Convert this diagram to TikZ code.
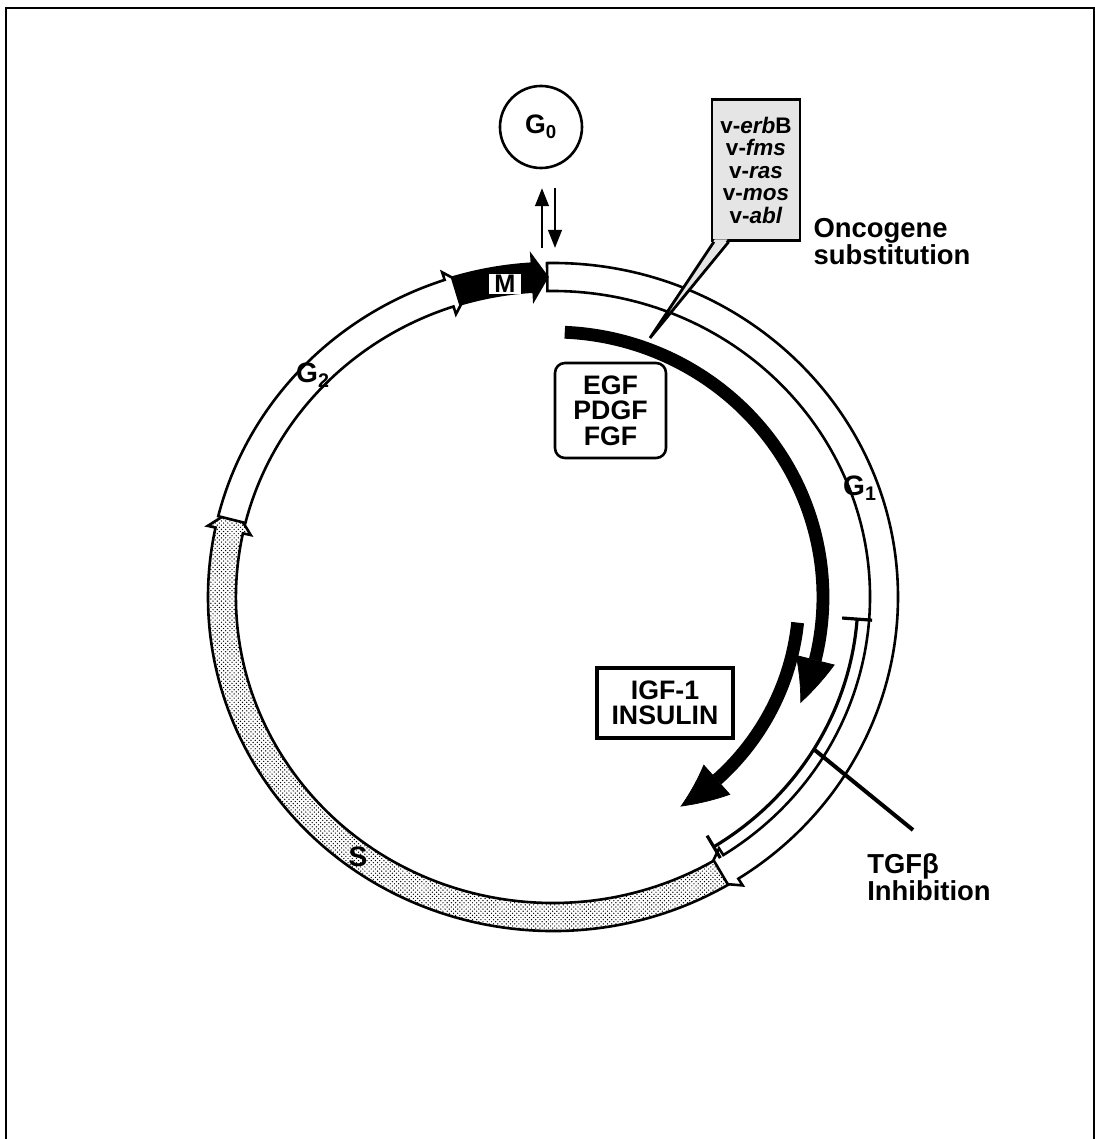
\documentclass[tikz,border=0pt]{standalone}
\usepackage{fontspec}
\setmainfont{Liberation Sans}
\usetikzlibrary{arrows.meta, bending, positioning, patterns}

\newcommand{\cycband}[4][]{%
  \draw[band, #1] (#2:345 and 334)
    arc[start angle=#2, end angle=#3, x radius=345, y radius=334]
    -- (#3:353 and 342) -- (#4:331 and 320) -- (#3:309 and 298) -- (#3:317 and 306)
    arc[start angle=#3, end angle=#2, x radius=317, y radius=306] -- cycle;}

\begin{document}
\begin{tikzpicture}[
    x=0.025cm, y=0.025cm,
    band/.style={draw, line width=0.065cm, fill=white},
    phase/.style={inner sep=0pt, font=\bfseries\fontsize{20}{20}\selectfont},
    lbl/.style={inner sep=0pt, align=left, font=\bfseries\fontsize{19.5}{19.5}\selectfont},
    gf/.style={draw, fill=white, align=center, inner sep=0pt, font=\bfseries\fontsize{19}{18}\selectfont},
    sig/.style={line width=0.32cm, -{Triangle[length=1.15cm, width=1cm, line width=0.5pt, bend]}},
    >={Triangle[length=0.45cm, width=0.34cm]}
  ]
  \useasboundingbox (-553,-542) rectangle (542,597);
  \draw[line width=0.06cm] (-547,-542) -- (-547,589) -- (541,589) -- (541,-542);

  \cycband{91}{-57.5}{-63}
  \cycband[pattern=crosshatch dots, pattern color=black, preaction={fill=white}]{-59.5}{-192}{-196}
  \cycband{166}{108.3}{104.5}
  \cycband[fill=black]{107}{93.5}{91}

  \node[phase] (g1) at (307,109) {G\textsubscript{1}};
  \node[phase] (g2) at (-240,222) {G\textsubscript{2}};
  \node[phase] (s) at (-195,-260) {S};
  \node[phase, fill=white, minimum width=0.8cm, minimum height=0.5cm, font=\bfseries\fontsize{18}{18}\selectfont] (m) at (-48,313) {M};

  \coordinate (tgfpt) at (-31.2:305 and 294);
  \coordinate (tgfend) at (360,-233);
  \draw[line width=0.08cm, {Bar[width=0.65cm]}-{Bar[width=0.75cm]}] (-58.5:305 and 294)
    arc[start angle=-58.5, end angle=-4, x radius=305, y radius=294];
  \node[lbl, anchor=west] (tgflbl) at (314,-280) {TGFβ\\Inhibition};
  \draw[line width=0.1cm] (tgfpt) -- (tgfend);

  \draw[sig] (87.5:270 and 265) arc[start angle=87.5, end angle=-23.6, x radius=270, y radius=265];
  \draw[sig] (-6:246 and 245) arc[start angle=-6, end angle=-58.8, x radius=246, y radius=245];
  \node[gf, line width=0.065cm, rounded corners=0.25cm, minimum width=2.775cm, minimum height=2.375cm] (egf) at (57.5,186.5) {EGF\\PDGF\\FGF};
  \node[gf, line width=0.085cm, minimum width=3.4cm, minimum height=1.75cm] (igf) at (112,-106) {IGF-1\\INSULIN};

  \node[draw, circle, line width=0.065cm, minimum size=2.05cm, inner sep=0pt, font=\bfseries\fontsize{19}{19}\selectfont] (g0) at (-12,470) {G\textsubscript{0}};
  \coordinate (upfoot) at (-11,349);
  \coordinate (downfoot) at (2,349);
  \draw[->, line width=0.06cm, shorten >=0.47cm] (upfoot) -- (upfoot |- g0.south);
  \draw[->, line width=0.06cm, shorten <=0.47cm] (downfoot |- g0.south) -- (downfoot);

  \node[draw, line width=0.065cm, fill=black!10, minimum width=2.2cm, minimum height=3.525cm, inner sep=0pt, align=center, font=\bfseries\fontsize{16}{16}\selectfont] (ocbox) at (203,427) {v-\textit{erb}B\\v-\textit{fms}\\v-\textit{ras}\\v-\textit{mos}\\v-\textit{abl}};
  \coordinate (octip) at (97,259);
  \fill[black!10] ([shift={(0.1cm,0.06cm)}]ocbox.south west) -- (octip) -- ([shift={(0.42cm,0.06cm)}]ocbox.south west) -- cycle;
  \draw[line width=0.07cm] ([xshift=0.08cm]ocbox.south west) -- (octip) -- ([xshift=0.45cm]ocbox.south west);
  \node[lbl, right=0.3cm of ocbox.south east] (ocname) {Oncogene\\substitution};
\end{tikzpicture}
\end{document}
